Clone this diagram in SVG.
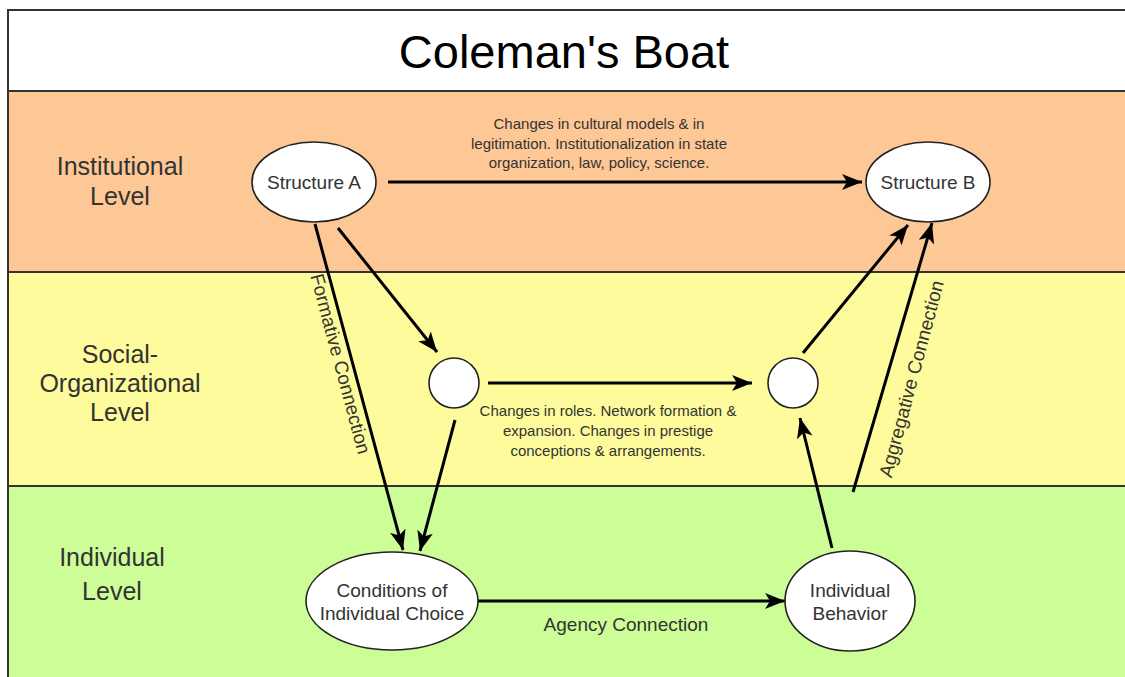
<svg xmlns="http://www.w3.org/2000/svg" width="1125" height="677" viewBox="0 0 1125 677">
<style>
.lvl{font-family:"Liberation Sans",Arial,sans-serif;font-size:25px;fill:#333;text-anchor:middle}
.nd{fill:#fff;stroke:#222;stroke-width:1.6}
.nt{font-family:"Liberation Sans",Arial,sans-serif;font-size:19px;fill:#333;text-anchor:middle}
.el{font-family:"Liberation Sans",Arial,sans-serif;font-size:15px;fill:#333;text-anchor:middle}
.cl{font-family:"Liberation Sans",Arial,sans-serif;font-size:19px;fill:#333;text-anchor:middle}
.ar{stroke:#000;stroke-width:3;fill:none;marker-end:url(#ah)}
.band{stroke:#333;stroke-width:2}
</style>
<defs>
<marker id="ah" markerUnits="userSpaceOnUse" markerWidth="22" markerHeight="16" refX="20" refY="8" orient="auto">
<path d="M0,0 L20,8 L0,16 L5,8 z" fill="#000"/>
</marker>
</defs>
<g id="background">
<rect x="0" y="0" width="1125" height="677" fill="#fff"/>
<rect x="8" y="10" width="1130" height="81" fill="#fff"/>
<rect x="8" y="91" width="1130" height="181" fill="#FDC896"/>
<rect x="8" y="272" width="1130" height="214" fill="#FEFB9C"/>
<rect x="8" y="486" width="1130" height="200" fill="#CDFD97"/>
<line class="band" x1="8" y1="10" x2="1130" y2="10"/>
<line class="band" x1="8" y1="9" x2="8" y2="690"/>
<line class="band" x1="8" y1="91" x2="1130" y2="91"/>
<line class="band" x1="8" y1="272" x2="1130" y2="272"/>
<line class="band" x1="8" y1="486" x2="1130" y2="486"/>
<text x="564" y="68" font-family="'Liberation Sans',Arial,sans-serif" font-size="47" fill="#000" text-anchor="middle">Coleman's Boat</text>
</g>
<g id="level-institutional">
<text class="lvl" x="120" y="175">Institutional</text>
<text class="lvl" x="120" y="205">Level</text>
</g>
<g id="level-social">
<text class="lvl" x="120" y="363">Social-</text>
<text class="lvl" x="120" y="392">Organizational</text>
<text class="lvl" x="120" y="421">Level</text>
</g>
<g id="level-individual">
<text class="lvl" x="112" y="566">Individual</text>
<text class="lvl" x="112" y="600">Level</text>
</g>
<g id="connectors">
<line class="ar" x1="388" y1="182" x2="862" y2="182"/>
<line class="ar" x1="338" y1="228" x2="437" y2="352"/>
<line class="ar" x1="315" y1="224" x2="403" y2="550"/>
<line class="ar" x1="455" y1="420" x2="420" y2="551"/>
<line class="ar" x1="488" y1="383" x2="752" y2="383"/>
<line class="ar" x1="803" y1="353" x2="908" y2="225"/>
<line class="ar" x1="832" y1="548" x2="800" y2="418"/>
<line class="ar" x1="853" y1="492" x2="932" y2="223"/>
<line class="ar" x1="478" y1="601" x2="785" y2="601"/>
<text class="el" x="599" y="129">Changes in cultural models &amp; in</text>
<text class="el" x="599" y="149">legitimation. Institutionalization in state</text>
<text class="el" x="599" y="168">organization, law, policy, science.</text>
<text class="el" x="608" y="416">Changes in roles. Network formation &amp;</text>
<text class="el" x="608" y="436">expansion. Changes in prestige</text>
<text class="el" x="608" y="456">conceptions &amp; arrangements.</text>
<text class="cl" x="626" y="631">Agency Connection</text>
<text class="cl" transform="translate(340,364) rotate(75)" y="6">Formative Connection</text>
<text class="cl" transform="translate(912,379) rotate(-75)" y="6">Aggregative Connection</text>
</g>
<g id="node-structure-a">
<ellipse class="nd" cx="314" cy="182" rx="62" ry="40"/>
<text class="nt" x="314" y="189">Structure A</text>
</g>
<g id="node-structure-b">
<ellipse class="nd" cx="928" cy="182" rx="62" ry="40"/>
<text class="nt" x="928" y="189">Structure B</text>
</g>
<g id="node-social-left">
<circle class="nd" cx="454" cy="383" r="25"/>
</g>
<g id="node-social-right">
<circle class="nd" cx="793" cy="383" r="25"/>
</g>
<g id="node-conditions">
<ellipse class="nd" cx="392" cy="601" rx="86" ry="49"/>
<text class="nt" x="392" y="597">Conditions of</text>
<text class="nt" x="392" y="620">Individual Choice</text>
</g>
<g id="node-behavior">
<ellipse class="nd" cx="850" cy="601" rx="65" ry="50"/>
<text class="nt" x="850" y="597">Individual</text>
<text class="nt" x="850" y="620">Behavior</text>
</g>
</svg>
